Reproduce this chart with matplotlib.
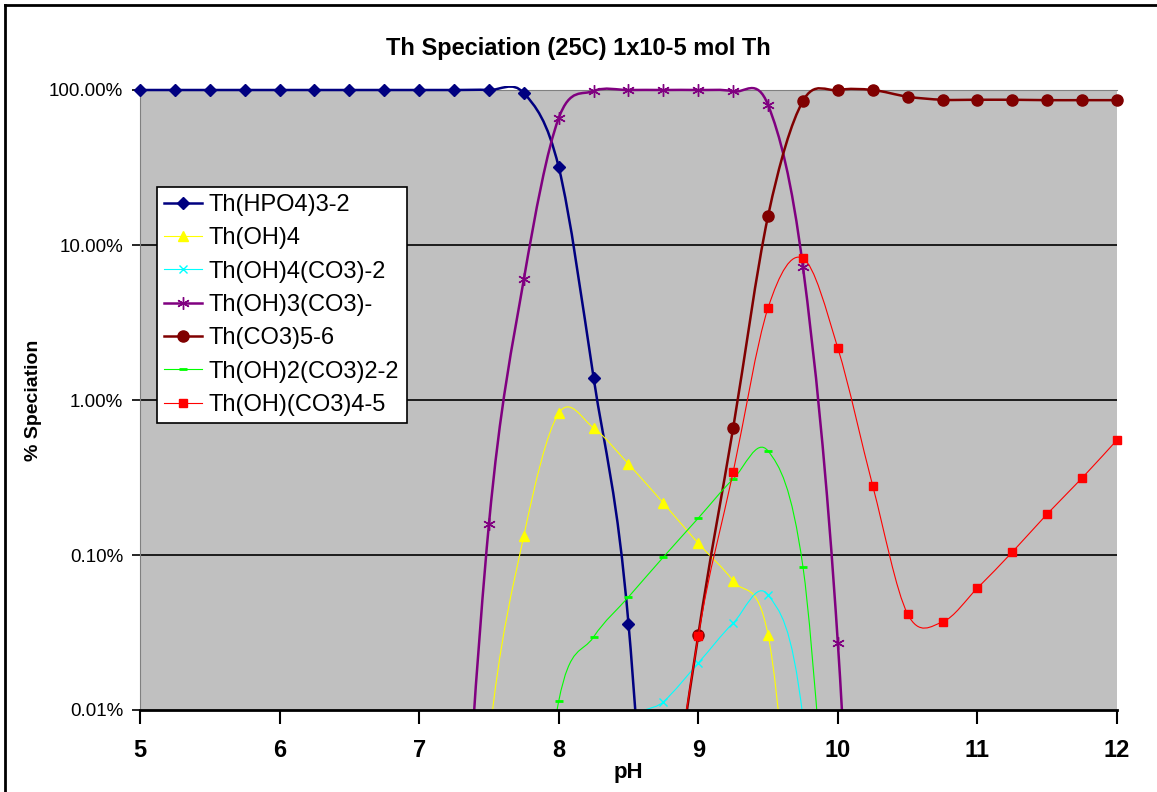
import numpy as np
import matplotlib
matplotlib.use("Agg")
import matplotlib.pyplot as plt
from matplotlib.path import Path
from matplotlib.patches import PathPatch
from matplotlib.lines import Line2D
from matplotlib.transforms import Bbox, TransformedBbox

plt.rcParams["font.family"] = ["Liberation Sans", "DejaVu Sans"]

# ── data (% speciation) ──────────────────────────────────────────────────────
ph_hpo4 = [5.0, 5.25, 5.5, 5.75, 6.0, 6.25, 6.5, 6.75, 7.0, 7.25, 7.5, 7.75, 8.0, 8.25, 8.5, 8.75, 9.0]
th_hpo4 = [100, 100, 100, 100, 100, 100, 100, 100, 100, 100, 100, 95.6, 31.8, 1.39, 0.036, 1e-5, 1e-9]

ph_oh4 = [7.0, 7.25, 7.5, 7.75, 8.0, 8.25, 8.5, 8.75, 9.0, 9.25, 9.5, 9.75, 10.0]
th_oh4 = [1e-8, 1e-5, 0.0063, 0.133, 0.82, 0.66, 0.386, 0.216, 0.119, 0.068, 0.0305, 4e-4, 1.5e-4]

ph_oh4co3 = [8.0, 8.25, 8.5, 8.75, 9.0, 9.25, 9.5, 9.75, 10.0]
th_oh4co3 = [1e-4, 0.00158, 0.0079, 0.0113, 0.0201, 0.0364, 0.0552, 0.0089, 1e-5]

ph_oh3co3 = [7.0, 7.25, 7.5, 7.75, 8.0, 8.25, 8.5, 8.75, 9.0, 9.25, 9.5, 9.75, 10.0, 10.25, 10.5]
th_oh3co3 = [1e-8, 1e-4, 0.158, 6.0, 65.9, 98.5, 100, 100, 100, 98, 80, 7.2, 0.027, 1e-6, 1e-10]

ph_co3 = [8.5, 8.75, 9.0, 9.25, 9.5, 9.75, 10.0, 10.25, 10.5, 10.75, 11.0, 11.25, 11.5, 11.75, 12.0]
th_co3 = [1e-6, 6.3e-4, 0.0305, 0.66, 15.4, 85, 100, 100, 90.5, 86.5, 86.5, 86.5, 86, 86, 86]

ph_oh2co3 = [7.5, 7.75, 8.0, 8.25, 8.5, 8.75, 9.0, 9.25, 9.5, 9.75, 10.0, 10.25]
th_oh2co3 = [1e-7, 1.6e-4, 0.0114, 0.0296, 0.0536, 0.097, 0.173, 0.309, 0.469, 0.0838, 3.2e-4, 1e-4]

ph_ohco3 = [8.5, 8.75, 9.0, 9.25, 9.5, 9.75, 10.0, 10.25, 10.5, 10.75, 11.0, 11.25, 11.5, 11.75, 12.0]
th_ohco3 = [1e-6, 6.3e-4, 0.030, 0.343, 3.93, 8.2, 2.16, 0.279, 0.0416, 0.037, 0.0612, 0.1045, 0.184, 0.314, 0.552]

y_ticks = [0.01, 0.1, 1, 10, 100]
y_ticklabels = ["0.01%", "0.10%", "1.00%", "10.00%", "100.00%"]
x_ticks = [5, 6, 7, 8, 9, 10, 11, 12]

series = [
    ("Th(HPO4)3-2",      ph_hpo4,   th_hpo4,   "#000080", 1.8, "D", 6.5, 1.0),
    ("Th(OH)4",          ph_oh4,    th_oh4,    "#FFFF00", 0.8, "^", 6.5, 1.0),
    ("Th(OH)4(CO3)-2",   ph_oh4co3, th_oh4co3, "#00FFFF", 0.8, "x", 5.5, 1.0),
    ("Th(OH)3(CO3)-",    ph_oh3co3, th_oh3co3, "#800080", 1.8, (6, 2, 0), 9, 1.0),
    ("Th(CO3)5-6",       ph_co3,    th_co3,    "#800000", 1.8, "o", 8, 1.0),
    ("Th(OH)2(CO3)2-2",  ph_oh2co3, th_oh2co3, "#00FF00", 0.8, "_", 6, 2.0),
    ("Th(OH)(CO3)4-5",   ph_ohco3,  th_ohco3,  "#FF0000", 0.8, "s", 5.5, 1.0),
]


def smooth_patch(ax, x, y, color, lw, z, clip):
    # Excel-style smoothed line: cubic Bezier segments in screen (pH, log y) space
    px = np.asarray(x, float)
    py = np.log10(np.asarray(y, float))
    n = len(px)
    verts = [(px[0], py[0])]
    codes = [Path.MOVETO]
    for i in range(n - 1):
        i0, i3 = max(i - 1, 0), min(i + 2, n - 1)
        c1 = (px[i] + (px[i + 1] - px[i0]) / 6, py[i] + (py[i + 1] - py[i0]) / 6)
        c2 = (px[i + 1] - (px[i3] - px[i]) / 6, py[i + 1] - (py[i3] - py[i]) / 6)
        verts += [c1, c2, (px[i + 1], py[i + 1])]
        codes += [Path.CURVE4] * 3
    verts = np.array(verts)
    verts[:, 1] = 10 ** verts[:, 1]
    patch = PathPatch(Path(verts, codes), fill=False, edgecolor=color,
                      lw=lw, zorder=z, capstyle="round", joinstyle="round")
    ax.add_patch(patch)
    patch.set_clip_path(None)
    patch.set_clip_box(clip)


fig = plt.figure(figsize=(11.57, 7.92), dpi=100)
ax = fig.add_axes([140 / 1157, 1 - 710 / 792, 977 / 1157, 620 / 792])
ax.set_facecolor("#C0C0C0")
ax.set_yscale("log")

clip = TransformedBbox(Bbox([[0, 0], [1, 1.006]]), ax.transAxes)

handles = []
for k, (label, x, y, color, lw, mk, ms, mew) in enumerate(series):
    z = 3 + k
    smooth_patch(ax, x, y, color, lw, z, clip)
    x = np.asarray(x)
    y = np.asarray(y)
    vis = y >= 0.01
    ax.plot(x[vis], y[vis], ls="none", marker=mk, ms=ms, color=color,
            mec=color, mew=mew, zorder=z + 0.5, clip_on=False)
    handles.append(Line2D([], [], color=color, lw=lw, marker=mk, ms=ms,
                          mec=color, mew=mew, label=label))

for v in y_ticks[1:-1]:
    ax.axhline(v, color="black", lw=1.2, zorder=2)

ax.set_xlim(5, 12)
ax.set_ylim(0.01, 100)
ax.set_xticks(x_ticks)
ax.set_xticklabels([str(t) for t in x_ticks], fontsize=17, fontweight="bold")
ax.set_yticks(y_ticks)
ax.set_yticklabels(y_ticklabels, fontsize=13.5)
ax.yaxis.set_minor_locator(matplotlib.ticker.NullLocator())
ax.tick_params(axis="x", length=10, width=1.5, pad=11, color="black")
ax.tick_params(axis="y", length=6, width=1.2, pad=6, color="black")

ax.spines["top"].set_color("#808080")
ax.spines["left"].set_color("#808080")
ax.spines["right"].set_visible(False)
ax.spines["bottom"].set_color("black")
ax.spines["bottom"].set_linewidth(2)
ax.spines["bottom"].set_zorder(20)

ax.set_xlabel("pH", fontsize=16, fontweight="bold", labelpad=0)
ax.set_ylabel("% Speciation", fontsize=14, fontweight="bold", labelpad=5)
fig.text(0.5, 1 - 48 / 792, "Th Speciation (25C) 1x10-5 mol Th",
         ha="center", va="center", fontsize=17, fontweight="bold")

leg = ax.legend(handles=handles, loc="upper left",
                bbox_to_anchor=(17 / 977, (710 - 187) / 620), borderaxespad=0,
                fontsize=17, frameon=True, fancybox=False, framealpha=1,
                edgecolor="black", labelspacing=0.48, handlelength=1.6,
                handletextpad=0.3, borderpad=0.3)
leg.get_frame().set_linewidth(1.2)
leg.set_zorder(30)

# chart-area border (top and left edges visible)
fig.add_artist(Line2D([5 / 1157, 5 / 1157], [0, 1 - 5 / 792],
                      transform=fig.transFigure, color="black", lw=2))
fig.add_artist(Line2D([5 / 1157, 1], [1 - 5 / 792, 1 - 5 / 792],
                      transform=fig.transFigure, color="black", lw=2))

fig.savefig("out.png", dpi=100)
